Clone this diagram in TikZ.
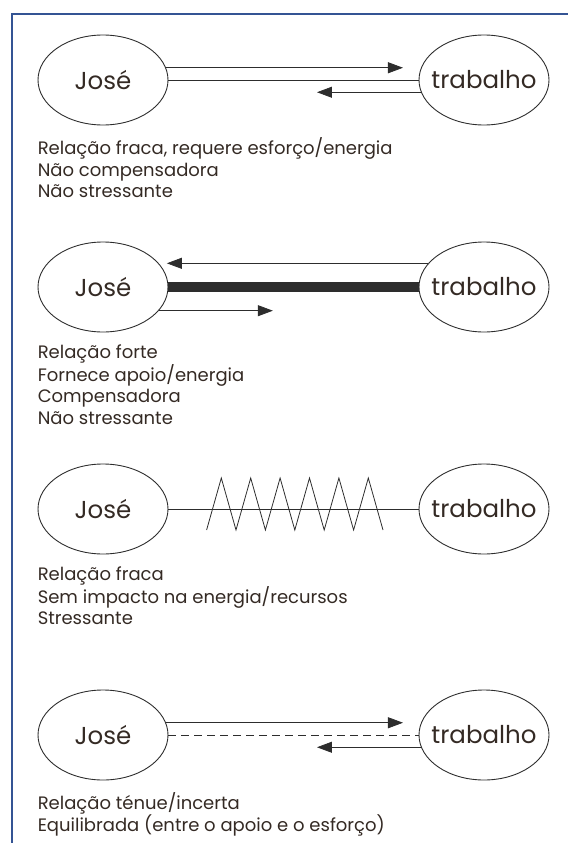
\documentclass[tikz,border=0pt]{standalone}
\usepackage{fontspec}
\setmainfont{Poppins}
\usetikzlibrary{shapes,arrows.meta,calc}
\definecolor{framecol}{RGB}{52,84,148}
\definecolor{inkcol}{RGB}{45,45,45}
\definecolor{txtcol}{RGB}{52,42,36}
\tikzset{
  person/.style={ellipse, draw=inkcol, line width=0.9pt, minimum width=130pt, minimum height=90pt, inner sep=0pt},
  nametxt/.style={text=txtcol, font=\fontsize{24.5}{28}\selectfont},
  desc/.style={anchor=north west, align=left, inner sep=0pt, text=txtcol, font=\fontsize{18}{21.5}\selectfont},
  link/.style={draw=inkcol, line width=0.8pt},
  arr/.style={link, -{Triangle[length=15pt,width=11pt]}},
  frame/.style={draw=framecol, line width=1.6pt}
}

\begin{document}
\begin{tikzpicture}[x=1pt,y=-1pt]
    \useasboundingbox (0,0) rectangle (568,843);
    \draw[frame] (12,843) -- (12,14) -- (568,14);

    \node[person, label={[nametxt]center:José}] (jose1) at (103,80) {};
    \node[person, label={[nametxt]center:trabalho}] (trab1) at (484,80) {};
    \draw[arr] (jose1.11) -- ([xshift=-18pt]trab1.169);
    \draw[link] (jose1.east) -- (trab1.west);
    \draw[arr] (trab1.191) -- ([xshift=-104pt]trab1.191);
    \node[desc] (txt1) at ($(jose1.west |- jose1.south)+(0,12)$) {Relação fraca, requere esforço/energia\\Não compensadora\\Não stressante};

    \node[person, label={[nametxt]center:José}] (jose2) at (103,287) {};
    \node[person, label={[nametxt]center:trabalho}] (trab2) at (484,287) {};
    \draw[arr, shorten >=8pt] (trab2.157) -- (jose2.23);
    \draw[link, line width=10pt] (jose2.east) -- (trab2.west);
    \draw[arr] (jose2.-23) -- ([xshift=114pt]jose2.-23);
    \node[desc] (txt2) at ($(jose2.west |- jose2.south)+(0,12)$) {Relação forte\\Fornece apoio/energia\\Compensadora\\Não stressante};

    \node[person, label={[nametxt]center:José}] (jose3) at (103,509) {};
    \node[person, label={[nametxt]center:trabalho}] (trab3) at (484,509) {};
    \draw[link] (jose3.east) -- (trab3.west);
    \coordinate (zz) at (206.6,530);
    \draw[link] (zz) \foreach \i in {1,...,12} { -- ++(14.7,{52*(-1)^\i}) };
    \node[desc] (txt3) at ($(jose3.west |- jose3.south)+(0,12)$) {Relação fraca\\Sem impacto na energia/recursos\\Stressante};

    \node[person, label={[nametxt]center:José}] (jose4) at (103,735) {};
    \node[person, label={[nametxt]center:trabalho}] (trab4) at (484,735) {};
    \draw[arr] (jose4.11) -- ([xshift=-18pt]trab4.169);
    \draw[link, dash pattern=on 8pt off 5pt] (jose4.east) -- (trab4.west);
    \draw[arr] (trab4.191) -- ([xshift=-104pt]trab4.191);
    \node[desc] (txt4) at ($(jose4.west |- jose4.south)+(0,12)$) {Relação ténue/incerta\\Equilibrada (entre o apoio e o esforço)};
\end{tikzpicture}
\end{document}
